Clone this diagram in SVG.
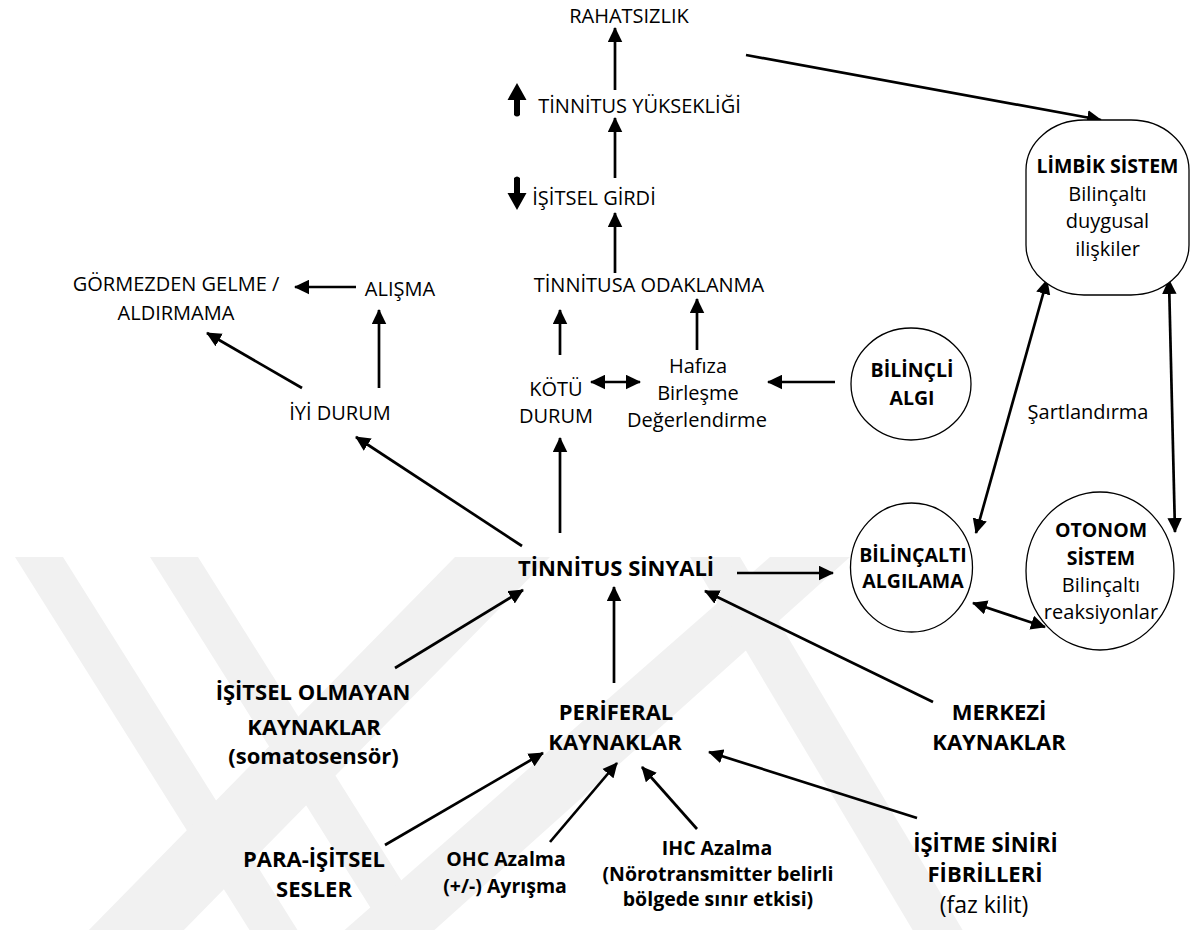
<svg xmlns="http://www.w3.org/2000/svg" width="1204" height="936" viewBox="0 0 1204 936">
<defs>
<marker id="ah" markerUnits="userSpaceOnUse" markerWidth="15" markerHeight="15" refX="14" refY="7.25" orient="auto-start-reverse" viewBox="0 0 15 14.5">
<path d="M0,0 L15,7.25 L0,14.5 Z" fill="#000"/>
</marker>
<clipPath id="wmclip"><rect x="0" y="557" width="1204" height="373"/></clipPath>
</defs>
<style>
text{font-family:"Open Sans","Liberation Sans",sans-serif;fill:#000;text-anchor:middle}
.n{font-size:20px}
.b{font-size:22px;font-weight:bold}
.bs{font-size:19.5px;font-weight:bold}
.nl{font-size:23px}
.ln{stroke:#000;stroke-width:2.7;fill:none;marker-end:url(#ah)}
.dl{stroke:#000;stroke-width:2.7;fill:none;marker-end:url(#ah);marker-start:url(#ah)}
.sh{fill:#fff;stroke:#000;stroke-width:1.3}
.wm{fill:#f1f1f1}
</style>
<rect width="1204" height="936" fill="#fff"/>
<g id="watermark" clip-path="url(#wmclip)">
<polygon class="wm" points="15,557 63,557 300,934 252,934"/>
<polygon class="wm" points="150,557 198,557 435,934 387,934"/>
<polygon class="wm" points="455,557 550,557 180,934 85,934"/>
<polygon class="wm" points="770,557 850,557 430,934 340,934"/>
<polygon class="wm" points="690,557 740,557 965,934 915,934"/>
</g>
<g id="connectors">
<line class="ln" x1="615" y1="90" x2="615" y2="28"/>
<line class="ln" x1="615" y1="178" x2="615" y2="118"/>
<line class="ln" x1="615" y1="273" x2="615" y2="213"/>
<line class="ln" x1="746" y1="55" x2="1101" y2="120"/>
<line class="ln" x1="356" y1="287" x2="295" y2="287"/>
<line class="ln" x1="379" y1="388" x2="379" y2="310"/>
<line class="ln" x1="302" y1="388" x2="207" y2="333"/>
<line class="ln" x1="560" y1="355" x2="560" y2="310"/>
<line class="ln" x1="560" y1="533" x2="560" y2="438"/>
<line class="ln" x1="522" y1="546" x2="356" y2="437"/>
<line class="dl" x1="591" y1="382" x2="640" y2="382"/>
<line class="ln" x1="697" y1="350" x2="697" y2="299"/>
<line class="ln" x1="835" y1="382" x2="768" y2="382"/>
<line class="dl" x1="976" y1="533" x2="1047" y2="280"/>
<line class="dl" x1="1169" y1="280" x2="1175" y2="532"/>
<line class="dl" x1="973" y1="603" x2="1045" y2="627"/>
<line class="ln" x1="737" y1="573" x2="833" y2="573"/>
<line class="ln" x1="614" y1="683" x2="614" y2="587"/>
<line class="ln" x1="395" y1="668" x2="523" y2="590"/>
<line class="ln" x1="933" y1="702" x2="705" y2="591"/>
<line class="ln" x1="385" y1="845" x2="543" y2="753"/>
<line class="ln" x1="550" y1="842" x2="617" y2="763"/>
<line class="ln" x1="697" y1="829" x2="642" y2="767"/>
<line class="ln" x1="917" y1="818" x2="709" y2="752"/>
</g>
<g id="rahatsizlik"><text class="n" x="629" y="23">RAHATSIZLIK</text></g>
<g id="yukseklik">
<path d="M517,83 L526.5,100 L520,100 L520,115 Q517,118 514,115 L514,100 L507.5,100 Z" fill="#000"/>
<text class="n" x="639.5" y="113">TİNNİTUS YÜKSEKLİĞİ</text>
</g>
<g id="girdi">
<path d="M517,210 L526.5,193 L520,193 L520,178 Q517,175 514,178 L514,193 L507.5,193 Z" fill="#000"/>
<text class="n" x="594" y="205">İŞİTSEL GİRDİ</text>
</g>
<g id="odaklanma"><text class="n" x="649" y="292">TİNNİTUSA ODAKLANMA</text></g>
<g id="gormezden">
<text class="n" x="176" y="291">GÖRMEZDEN GELME /</text>
<text class="n" x="176" y="320">ALDIRMAMA</text>
</g>
<g id="alisma"><text class="n" x="400" y="296">ALIŞMA</text></g>
<g id="iyi"><text class="n" x="340" y="420">İYİ DURUM</text></g>
<g id="kotu">
<text class="n" x="556" y="396">KÖTÜ</text>
<text class="n" x="556" y="423">DURUM</text>
</g>
<g id="hafiza">
<text class="n" x="698" y="373">Hafıza</text>
<text class="n" x="698" y="400">Birleşme</text>
<text class="n" x="697" y="427">Değerlendirme</text>
</g>
<g id="bilincli">
<ellipse class="sh" cx="911" cy="384" rx="60" ry="56"/>
<text class="bs" x="912" y="377">BİLİNÇLİ</text>
<text class="bs" x="912" y="405">ALGI</text>
</g>
<g id="sartlandirma"><text class="n" x="1088" y="419">Şartlandırma</text></g>
<g id="limbik">
<rect class="sh" x="1026" y="120" width="163" height="175" rx="58" ry="50"/>
<text class="bs" x="1107.5" y="173">LİMBİK SİSTEM</text>
<text class="n" x="1107.5" y="201">Bilinçaltı</text>
<text class="n" x="1107.5" y="228">duygusal</text>
<text class="n" x="1107.5" y="256">ilişkiler</text>
</g>
<g id="bilincalti">
<ellipse class="sh" cx="911.5" cy="567.5" rx="61" ry="64.5"/>
<text class="bs" x="913" y="562">BİLİNÇALTI</text>
<text class="bs" x="913" y="588">ALGILAMA</text>
</g>
<g id="otonom">
<ellipse class="sh" cx="1100" cy="571" rx="74" ry="79"/>
<text class="bs" x="1101" y="537">OTONOM</text>
<text class="bs" x="1101" y="565">SİSTEM</text>
<text class="n" x="1101" y="592">Bilinçaltı</text>
<text class="n" x="1101" y="619">reaksiyonlar</text>
</g>
<g id="sinyal"><text class="b" x="616" y="576">TİNNİTUS SİNYALİ</text></g>
<g id="periferal">
<text class="b" x="616" y="720">PERİFERAL</text>
<text class="b" x="615" y="750">KAYNAKLAR</text>
</g>
<g id="isitsel-olmayan">
<text class="b" x="313" y="700">İŞİTSEL OLMAYAN</text>
<text class="b" x="314" y="735">KAYNAKLAR</text>
<text class="b" x="313.5" y="764">(somatosensör)</text>
</g>
<g id="merkezi">
<text class="b" x="999" y="720">MERKEZİ</text>
<text class="b" x="999" y="750">KAYNAKLAR</text>
</g>
<g id="para">
<text class="b" x="314" y="867">PARA-İŞİTSEL</text>
<text class="b" x="314" y="897">SESLER</text>
</g>
<g id="ohc">
<text class="bs" x="506" y="866">OHC Azalma</text>
<text class="bs" x="505" y="893">(+/-) Ayrışma</text>
</g>
<g id="ihc">
<text class="bs" x="717" y="855">IHC Azalma</text>
<text class="bs" x="718" y="881">(Nörotransmitter belirli</text>
<text class="bs" x="718" y="906">bölgede sınır etkisi)</text>
</g>
<g id="isitme-siniri">
<text class="b" x="985.5" y="852">İŞİTME SİNİRİ</text>
<text class="b" x="985" y="882">FİBRİLLERİ</text>
<text class="nl" x="984" y="913">(faz kilit)</text>
</g>
</svg>
